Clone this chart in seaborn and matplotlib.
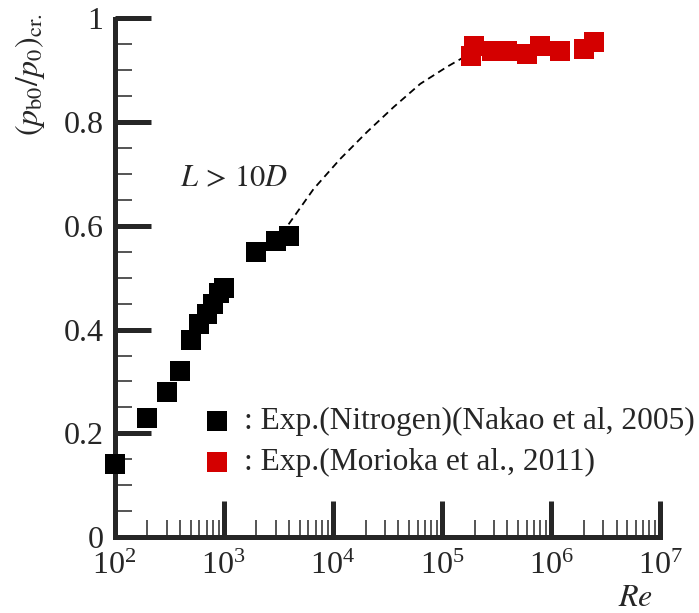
import numpy as np
import pandas as pd
import matplotlib
matplotlib.use("Agg")
import matplotlib.pyplot as plt
import matplotlib.ticker as mticker
import seaborn as sns

# Nakao et al. (2005), nitrogen, L > 10D
re_nakao = [100, 200, 300, 400, 500, 600, 700, 800, 900, 1000, 2000, 3000, 4000]
p_nakao = [0.14, 0.23, 0.28, 0.32, 0.38, 0.41, 0.43, 0.45, 0.47, 0.48, 0.55, 0.57, 0.58]

# Morioka et al. (2011)
re_morioka = [1.86e5, 1.99e5, 2.9e5, 3.96e5, 6.0e5, 7.9e5, 1.2e6, 2.0e6, 2.47e6]
p_morioka = [0.928, 0.947, 0.938, 0.938, 0.932, 0.947, 0.938, 0.942, 0.954]

# trend curve bridging the two data sets
re_trend = [3.94e3, 6.67e3, 1.17e4, 2.06e4, 3.61e4, 6.35e4, 1.12e5, 1.58e5]
p_trend = [0.603, 0.671, 0.729, 0.781, 0.829, 0.874, 0.907, 0.925]

label_nakao = ": Exp.(Nitrogen)(Nakao et al, 2005)"
label_morioka = ": Exp.(Morioka et al., 2011)"

sns.set_style("ticks")
plt.rcParams["font.family"] = ["Liberation Serif", "DejaVu Serif"]
plt.rcParams["mathtext.fontset"] = "stix"

FS = 23

fig = plt.figure(figsize=(6.99, 6.13), dpi=100)
ax = fig.add_axes([114.5 / 699, 1 - 537 / 613, (660 - 114.5) / 699, (537 - 18.5) / 613])

df_n = pd.DataFrame({"Re": re_nakao, "p": p_nakao})
df_m = pd.DataFrame({"Re": re_morioka, "p": p_morioka})
df_t = pd.DataFrame({"Re": re_trend, "p": p_trend})

sns.lineplot(data=df_t, x="Re", y="p", ax=ax, color="black", linewidth=1.3,
             linestyle=(0, (4, 2.6)), sort=False, zorder=1)
msize = 13.7 ** 2
sns.scatterplot(data=df_n, x="Re", y="p", ax=ax, marker="s", s=msize, color="black",
                linewidth=0, label=label_nakao, zorder=3, clip_on=False)
sns.scatterplot(data=df_m, x="Re", y="p", ax=ax, marker="s", s=msize, color="#d40000",
                linewidth=0, label=label_morioka, zorder=3, clip_on=False)

ax.set_xscale("log")
ax.set_xlim(1e2, 1e7)
ax.set_ylim(0, 1)
ax.set_xlabel("")
ax.set_ylabel("")

for side in ("top", "right"):
    ax.spines[side].set_visible(False)
for side in ("left", "bottom"):
    ax.spines[side].set_linewidth(3.6)
    ax.spines[side].set_capstyle("projecting")

ax.xaxis.set_major_locator(mticker.LogLocator(base=10, numticks=10))
ax.xaxis.set_minor_locator(mticker.LogLocator(base=10, subs=np.arange(2, 10), numticks=100))
ax.xaxis.set_minor_formatter(mticker.NullFormatter())
ax.yaxis.set_major_locator(mticker.MultipleLocator(0.2))
ax.yaxis.set_minor_locator(mticker.MultipleLocator(0.05))
ax.yaxis.set_major_formatter(mticker.FuncFormatter(lambda v, _: f"{v:g}"))

ax.tick_params(which="major", direction="in", length=26, width=3.6, labelsize=FS,
               top=False, right=False)
ax.tick_params(which="minor", direction="in", length=12.5, width=1.1,
               top=False, right=False)
ax.tick_params(axis="y", which="major", pad=8)
ax.tick_params(axis="x", which="major", pad=11)

ax.text(400, 0.69, r"$L\,>\,10D$", fontsize=22, ha="left", va="center")

fig.text(636 / 699, 1 - 598 / 613, r"$Re$", fontsize=FS, ha="center", va="center")
fig.text(30 / 699, 1 - 75 / 613, r"$(p_{\mathrm{b0}}/p_{0})_{\mathrm{cr.}}$",
         fontsize=FS, rotation=90, ha="center", va="center")

ax.legend(loc="upper left", bbox_to_anchor=(208 / 699, 1 - 407 / 613),
          bbox_transform=fig.transFigure, frameon=False, fontsize=22.6,
          handletextpad=0.55, borderaxespad=0, labelspacing=0.38,
          handlelength=0.6, borderpad=0)

fig.savefig("out.png", dpi=100)
